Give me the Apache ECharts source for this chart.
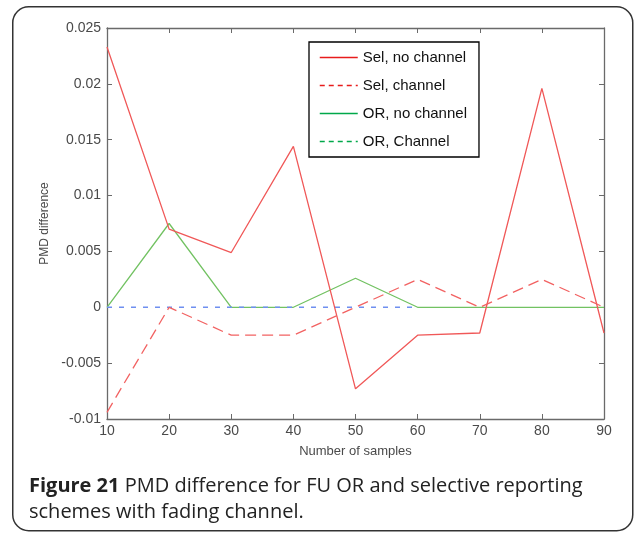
<!DOCTYPE html>
<html>
<head>
<meta charset="utf-8">
<style type="text/css">
html,body{margin:0;padding:0;background:#fff;}
#chart{width:635px;height:533px;}
</style>
</head>
<body>
<div id="chart"></div>
<script src="https://cdn.jsdelivr.net/npm/echarts@6/dist/echarts.min.js"></script>
<script type="text/javascript">
// data
var samples = [10, 20, 30, 40, 50, 60, 70, 80, 90];
var selNoChannel = [0.0233, 0.0070, 0.0049, 0.0144, -0.0073, -0.0025, -0.0023, 0.0196, -0.0023];
var selChannel   = [-0.0094, 0, -0.0025, -0.0025, 0, 0.0025, 0, 0.0025, 0];
var orNoChannel  = [0, 0.0075, 0, 0, 0.0026, 0, 0, 0, 0];
var orChannel    = [0, 0, 0, 0, 0, 0, null, null, null];
var yTicks = [-0.01, -0.005, 0, 0.005, 0.01, 0.015, 0.02, 0.025];

function pairs(vals){
    var out = [];
    for (var i = 0; i < samples.length; i++) out.push([samples[i], vals[i]]);
    return out;
}

var chart = echarts.init(document.getElementById("chart"));
var axisGray = '#6a6a6a';
var labelGray = '#4a4a4a';
var noDot = {opacity: 0};

var option = {
    animation: false,
    backgroundColor: '#fff',
    textStyle: {fontFamily: 'Liberation Sans, Arial, sans-serif'},
    grid: {left: 107, top: 28, right: 31, bottom: 114},
    legend: {
        orient: 'vertical',
        left: 309, top: 42,
        padding: [8, 12, 8, 10],
        itemWidth: 38, itemHeight: 14, itemGap: 13,
        borderColor: '#000', borderWidth: 1.3,
        backgroundColor: '#fff',
        textStyle: {color: '#111', fontSize: 15, fontFamily: 'Liberation Sans, Arial, sans-serif'},
        data: [
            {name: 'Sel, no channel', itemStyle: noDot, lineStyle: {color: '#e81c1c', width: 1.5}},
            {name: 'Sel, channel', itemStyle: noDot, lineStyle: {color: '#e81c1c', width: 1.5, type: [5, 4]}},
            {name: 'OR, no channel', itemStyle: noDot, lineStyle: {color: '#00a84a', width: 1.5}},
            {name: 'OR, Channel', itemStyle: noDot, lineStyle: {color: '#00a84a', width: 1.5, type: [5, 4]}}
        ]
    },
    xAxis: [{
        type: 'value', min: 10, max: 90, interval: 10,
        name: 'Number of samples', nameLocation: 'middle', nameGap: 26,
        nameTextStyle: {color: labelGray, fontSize: 13},
        axisLine: {show: true, onZero: false, lineStyle: {color: axisGray, width: 1.3}},
        axisTick: {inside: true, length: 5, lineStyle: {color: axisGray}},
        axisLabel: {color: labelGray, fontSize: 14, margin: 5},
        splitLine: {show: false}
    }, {
        type: 'value', min: 10, max: 90, interval: 10, position: 'top',
        axisLine: {show: true, onZero: false, lineStyle: {color: axisGray, width: 1.3}},
        axisTick: {inside: true, length: 5, lineStyle: {color: axisGray}},
        axisLabel: {show: false},
        splitLine: {show: false}
    }],
    yAxis: [{
        type: 'value', min: -0.01, max: 0.025, interval: 0.005,
        name: 'PMD difference', nameLocation: 'middle', nameGap: 55, nameRotate: 90,
        nameTextStyle: {color: labelGray, fontSize: 12},
        axisLine: {show: true, onZero: false, lineStyle: {color: axisGray, width: 1.3}},
        axisTick: {inside: true, length: 5, lineStyle: {color: axisGray}},
        axisLabel: {color: labelGray, fontSize: 14, margin: 6,
            formatter: function(v){ return yTicks.indexOf(+v.toFixed(3)) >= 0 ? String(+v.toFixed(3)) : ''; }},
        splitLine: {show: false}
    }, {
        type: 'value', min: -0.01, max: 0.025, interval: 0.005, position: 'right',
        axisLine: {show: true, onZero: false, lineStyle: {color: axisGray, width: 1.3}},
        axisTick: {inside: true, length: 5, lineStyle: {color: axisGray}},
        axisLabel: {show: false},
        splitLine: {show: false}
    }],
    series: [
        {name: 'Sel, no channel', type: 'line', symbol: 'none', data: pairs(selNoChannel), z: 3,
         lineStyle: {color: '#f05858', width: 1.3}, itemStyle: {color: '#f05858'}},
        {name: 'Sel, channel', type: 'line', symbol: 'none', data: pairs(selChannel), z: 3,
         lineStyle: {color: '#f26262', width: 1.3, type: [11, 6]}, itemStyle: {color: '#f26262'}},
        {name: 'OR, no channel', type: 'line', symbol: 'none', data: pairs(orNoChannel), z: 2,
         lineStyle: {color: '#72c262', width: 1.3}, itemStyle: {color: '#72c262'}},
        {name: 'OR, Channel', type: 'line', symbol: 'none', data: pairs(orChannel), z: 2,
         lineStyle: {color: '#6f8ff0', width: 1.4, type: [5, 7]}, itemStyle: {color: '#6f8ff0'}}
    ],
    graphic: [
        {type: 'rect', left: 12, top: 6, z: -10, silent: true,
         shape: {width: 620, height: 524, r: 16},
         style: {fill: '#fff', stroke: '#333', lineWidth: 1.5}},
        {type: 'text', left: 29, top: 476, z: 10,
         style: {text: '{b|Figure 21} PMD difference for FU OR and selective reporting',
                 rich: {b: {fontWeight: 'bold', fontSize: 20, fill: '#222', fontFamily: 'Open Sans, Noto Sans, sans-serif'}},
                 fontSize: 20, fill: '#222', fontFamily: 'Open Sans, Noto Sans, sans-serif'}},
        {type: 'text', left: 29, top: 502, z: 10,
         style: {text: 'schemes with fading channel.', fontSize: 20, fill: '#222', fontFamily: 'Open Sans, Noto Sans, sans-serif'}}
    ]
};
chart.setOption(option);
</script>
</body>
</html>
